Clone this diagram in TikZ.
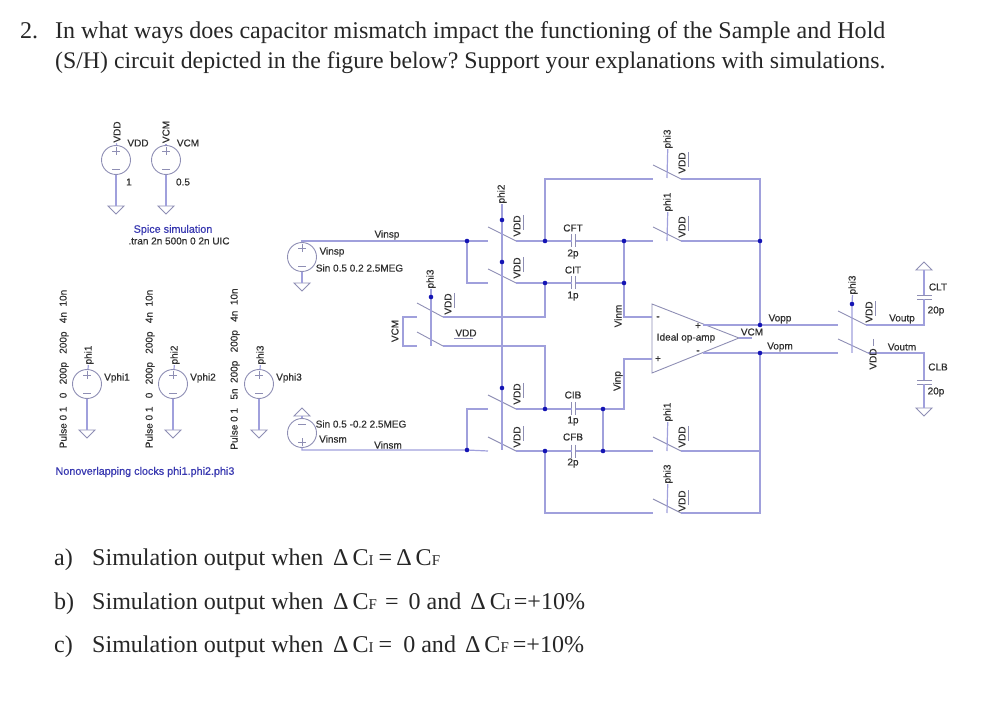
\documentclass[tikz,border=0pt]{standalone}
\usepackage{fontspec}
\setmainfont{Liberation Serif}
\newfontfamily\spicefont[RawFeature={embolden=0.6}]{Liberation Sans}
\definecolor{wirecol}{HTML}{A0A0DC}
\definecolor{symbcol}{HTML}{8E8EB4}
\definecolor{dotcol}{HTML}{1414B4}
\definecolor{notecol}{HTML}{3838B0}
\definecolor{lblcol}{HTML}{303030}
\tikzset{
  wire/.style={draw=wirecol, line width=1.2pt},
  symb/.style={draw=symbcol, line width=0.9pt},
  jdot/.style={circle, fill=dotcol, inner sep=0pt, minimum size=4.6pt},
  vsrc/.style={circle, draw=symbcol, line width=0.9pt, inner sep=0pt, minimum size=29pt},
  lbl/.style={font=\spicefont\fontsize{10}{11}\selectfont, text=lblcol, inner sep=0.5pt},
  rlbl/.style={lbl, rotate=90},
  note/.style={lbl, font=\spicefont\fontsize{10.8}{12}\selectfont, text=notecol},
  prob/.style={anchor=base west, inner sep=0pt, font=\fontsize{24.05}{28}\selectfont\frenchspacing, text=black!85},
}
\newcommand{\Cs}[1]{C{\fontsize{15}{15}\selectfont #1}}
\begin{document}
\begin{tikzpicture}[x=1pt, y=-1pt]
  \useasboundingbox (0,0) rectangle (994,703);

  % Question text
  \node[prob] (q1a) at (20,39) {2.};
  \node[prob] (q1b) at (55,39) {In what ways does capacitor mismatch impact the functioning of the Sample and Hold};
  \node[prob, font=\fontsize{23.8}{28}\selectfont\frenchspacing] (q1c) at (55,69) {(S/H) circuit depicted in the figure below? Support your explanations with simulations.};
  \node[prob] (qa0) at (54,565) {a)};
  \node[prob] (qa1) at (92,565) {Simulation output when};
  \node[prob] (qa2) at (333,565) {Δ\kern4pt\Cs{I}\kern5pt=\kern4ptΔ\kern4pt\Cs{F}};
  \node[prob] (qb0) at (54,609) {b)};
  \node[prob] (qb1) at (92,609) {Simulation output when};
  \node[prob] (qb2) at (333,609) {Δ\kern4pt\Cs{F}\kern8pt=\kern10pt0 and\kern9ptΔ\kern4pt\Cs{I}\kern3pt=+10\%};
  \node[prob] (qc0) at (54,652) {c)};
  \node[prob] (qc1) at (92,652) {Simulation output when};
  \node[prob] (qc2) at (333,652) {Δ\kern4pt\Cs{I}\kern5pt=\kern11pt0 and\kern9ptΔ\kern4pt\Cs{F}\kern4pt=+10\%};

  % Sources
  \foreach \nm/\x/\y in {vdd/116/160, vcm/166/160, vphiA/87/384, vphiB/173/384, vphiC/259/384, vinp/302/257} {
    \node[vsrc] (\nm) at (\x,\y) {};
    \draw[symb] (\x-4,\y-9) -- (\x+4,\y-9) (\x,\y-13) -- (\x,\y-5) (\x-4,\y+9) -- (\x+4,\y+9);
  }
  \node[vsrc] (vinm) at (302,433) {};
  \draw[symb] (298,424) -- (306,424) (298,442) -- (306,442) (302,438) -- (302,446);

  % Grounds
  \foreach \nm/\x/\y/\d in {gvdd/116/206/8, gvcm/166/206/8, gvphiA/87/430/8, gvphiB/173/430/8, gvphiC/259/430/8, gvinp/302/283/8, gvinm/302/416/-8, gclt/924/270/-8, gclb/924/408/8} {
    \coordinate (\nm) at (\x,\y);
    \draw[symb] (\x-8,\y) -- (\x+8,\y) -- (\x,\y+\d) -- cycle;
  }
  \foreach \nm in {vdd, vcm, vphiA, vphiB, vphiC, vinp}
    \draw[wire] (\nm.south) -- (g\nm);
  \draw[wire] (vinm.north) -- (gvinm);

  % Switches: blade and its two contacts
  \foreach \nm/\x/\y/\w in {swA/488/241/28, swB/488/283/28, swC/488/409/28, swD/488/451/28,
      swE/417/317/26, swF/417/346/26,
      swG/653/179/28, swH/653/241/28, swI/653/451/28, swJ/653/513/28,
      swK/838/325/28, swL/838/353/30} {
    \coordinate (\nm L) at (\x,\y);
    \coordinate (\nm R) at (\x+\w,\y);
    \draw[symb] (\x,\y-14) -- (\nm R);
  }

  % Junctions and corners
  \foreach \nm/\x/\y in {jinp/467/241, jinm/467/450, jA/545/241, jB/545/283, jC/545/409, jD/545/451,
      jE/624/241, jF/624/283, jG/603/409, jH/603/451, jP/760/241, jQ/760/325, jR/760/353,
      dA/502/220, dB/502/262, dC/502/388, dD/431/297, dE/852/304,
      cinpT/302/241, cinpB/467/283, cinmB/302/450, cinmT/467/409,
      cA/403/317, cB/403/346, cC/545/317, cD/545/346, cE/545/179, cF/545/513,
      cG/760/179, cH/760/513, cI/624/317, cJ/624/359, cK/624/409, cN/760/451,
      cL/924/325, cM/924/353, cEndB/502/450, cEndD/431/346, cEndE/852/353,
      cEndH/667/241, cEndG/667/178, cEndI/667/451, cEndJ/667/513} {
    \coordinate (\nm) at (\x,\y);
  }

  % Ideal op-amp
  \coordinate (opT) at (652,304);
  \coordinate (opB) at (652,373);
  \coordinate (opO) at (739,338);
  \coordinate (opM) at (652,317);
  \coordinate (opN) at (652,359);
  \coordinate (opP) at (703,325);
  \coordinate (opR) at (703,353);
  \coordinate (opV) at (752,338);
  \draw[symb] (opT) -- (opO) -- (opB) -- cycle;
  \node[lbl] (opname) at (686,338) {Ideal op-amp};
  \node[lbl] (opsA) at (658,318) {-};
  \node[lbl] (opsB) at (658,359) {+};
  \node[lbl] (opsC) at (698,326) {+};
  \node[lbl] (opsD) at (698,352) {-};

  % Input wiring
  \draw[wire] (vinp.north) -- (cinpT) -- (jinp) -- (swAL);
  \draw[wire] (jinp) -- (cinpB) -- (swBL);
  \draw[wire] (vinm.south) -- (cinmB) -- (jinm) -- (swDL);
  \draw[wire] (jinm) -- (cinmT) -- (swCL);
  \draw[wire] (swEL) -- (cA) -- (cB) -- (swFL);
  \draw[wire] (swER) -- (cC) -- (jB);
  \draw[wire] (swFR) -- (cD) -- (jC);

  % Capacitors
  \foreach \nm/\a/\b/\y in {cft/jA/jE/241, cit/jB/jF/283, cib/jC/jG/409, cfb/jD/jH/451} {
    \draw[symb] (571.5,\y-6.5) -- (571.5,\y+6.5) (575.5,\y-6.5) -- (575.5,\y+6.5);
    \coordinate (\nm l) at (571.5,\y);
    \coordinate (\nm r) at (575.5,\y);
    \draw[wire] (\a) -- (\nm l) (\nm r) -- (\b);
  }
  \draw[symb] (917,295) -- (932,295) (917,299) -- (932,299) (917,380) -- (932,380) (917,384) -- (932,384);
  \coordinate (cltT) at (924,295);
  \coordinate (cltB) at (924,299);
  \coordinate (clbT) at (924,380);
  \coordinate (clbB) at (924,384);

  % Capacitor and feedback wiring
  \draw[wire] (swAR) -- (jA);
  \draw[wire] (swBR) -- (jB);
  \draw[wire] (swCR) -- (jC);
  \draw[wire] (swDR) -- (jD);
  \draw[wire] (jE) -- (jF) -- (cI) -- (opM);
  \draw[wire] (jG) -- (cK) -- (cJ) -- (opN);
  \draw[wire] (jG) -- (jH);
  \draw[wire] (jE) -- (swHL);
  \draw[wire] (jH) -- (swIL);
  \draw[wire] (jA) -- (cE) -- (swGL);
  \draw[wire] (jD) -- (cF) -- (swJL);
  \draw[wire] (swGR) -- (cG) -- (jP);
  \draw[wire] (swHR) -- (jP) -- (jQ);
  \draw[wire] (swIR) -- (cN);
  \draw[wire] (swJR) -- (cH) -- (cN) -- (jR);

  % Output wiring
  \draw[wire] (opP) -- (jQ) -- (swKL);
  \draw[wire] (opR) -- (jR) -- (swLL);
  \draw[wire] (swKR) -- (cL) -- (cltB);
  \draw[wire] (cltT) -- (gclt);
  \draw[wire] (swLR) -- (cM) -- (clbT);
  \draw[wire] (clbB) -- (gclb);
  \draw[wire] (opO) -- (opV);

  % Switch control lines
  \node[rlbl] (lphiB) at (502,194) {phi2};
  \node[rlbl] (lphiCa) at (431,279) {phi3};
  \node[rlbl] (lphiCb) at (853,285) {phi3};
  \node[rlbl] (lphiCc) at (668,139) {phi3};
  \node[rlbl] (lphiAa) at (668,202) {phi1};
  \node[rlbl] (lphiAb) at (668,412) {phi1};
  \node[rlbl] (lphiCd) at (668,474) {phi3};
  \draw[wire] (lphiB) -- (dA) -- (cEndB);
  \draw[wire] (lphiCa) -- (dD) -- (cEndD);
  \draw[wire] (lphiCb) -- (dE) -- (cEndE);
  \draw[wire] (lphiCc) -- (cEndG);
  \draw[wire] (lphiAa) -- (cEndH);
  \draw[wire] (lphiAb) -- (cEndI);
  \draw[wire] (lphiCd) -- (cEndJ);

  % Junction dots go over the wires
  \foreach \nm in {jinp, jinm, jA, jB, jC, jD, jE, jF, jG, jH, jP, jQ, jR, dA, dB, dC, dD, dE}
    \node[jdot] (n\nm) at (\nm) {};

  % VDD flags on the switches
  \foreach \nm/\x/\y in {fA/517/226, fB/517/268, fC/517/394, fD/517/437,
      fE/682/163, fF/682/227, fG/682/437, fH/682/501, fI/448/304, fJ/869/312} {
    \node[rlbl] (\nm) at (\x,\y) {VDD};
    \draw[symb] (\x+6,\y-11) -- (\x+6,\y+4);
  }
  \node[lbl] (fK) at (466,333) {VDD};
  \draw[symb] (454,338.5) -- (473,338.5);
  \node[rlbl] (fL) at (873,359) {VDD};
  \draw[symb] (873,339) -- (873,346);

  % Source labels
  \node[rlbl] (lvdd) at (117,132) {VDD};
  \node[rlbl] (lvcm) at (166,132) {VCM};
  \draw[wire] (lvdd) -- (vdd);
  \draw[wire] (lvcm) -- (vcm);
  \node[lbl] (nvdd) at (138,143) {VDD};
  \node[lbl] (nvcm) at (188,143) {VCM};
  \node[lbl] (vala) at (129,182) {1};
  \node[lbl] (valb) at (183,182) {0.5};
  \node[note] (spice) at (173,230) {Spice simulation};
  \node[lbl] (tran) at (179,241) {.tran 2n 500n 0 2n UIC};

  % Clock sources
  \node[rlbl] (tphiA) at (89,355) {phi1};
  \node[rlbl] (tphiB) at (175,355) {phi2};
  \node[rlbl] (tphiC) at (261,355) {phi3};
  \draw[wire] (tphiA) -- (vphiA);
  \draw[wire] (tphiB) -- (vphiB);
  \draw[wire] (tphiC) -- (vphiC);
  \node[lbl] (nphiA) at (117,378) {Vphi1};
  \node[lbl] (nphiB) at (203,378) {Vphi2};
  \node[lbl] (nphiC) at (289,378) {Vphi3};
  \node[rlbl] (pulA) at (64,369) {Pulse 0 1\ \ \ 0\ \ \ 200p\ \ \ 200p\ \ \ 4n\ \ 10n};
  \node[rlbl] (pulB) at (150,369) {Pulse 0 1\ \ \ 0\ \ \ 200p\ \ \ 200p\ \ \ 4n\ \ 10n};
  \node[rlbl] (pulC) at (235,369) {Pulse 0 1\ \ \ 5n\ \ 200p\ \ \ 200p\ \ \ 4n\ \ 10n};
  \node[note] (clocks) at (145,472) {Nonoverlapping clocks phi1.phi2.phi3};

  % Input labels
  \node[lbl] (tinpw) at (387,235) {Vinsp};
  \node[lbl] (tinp) at (332,252) {Vinsp};
  \node[lbl] (sinp) at (359.5,268) {Sin 0.5 0.2 2.5MEG};
  \node[lbl] (sinm) at (361,424) {Sin 0.5 -0.2 2.5MEG};
  \node[lbl] (tinm) at (333,439) {Vinsm};
  \node[lbl] (tinmw) at (388,445) {Vinsm};
  \node[rlbl] (tvcm) at (395,331) {VCM};

  % Net and capacitor labels
  \node[rlbl] (tvinm) at (618,316) {Vinm};
  \node[rlbl] (tvinp) at (618,381) {Vinp};
  \node[lbl] (lcft) at (573,228) {CFT};
  \node[lbl] (vcft) at (573,254) {2p};
  \node[lbl] (lcit) at (573,270) {CIT};
  \node[lbl] (vcit) at (573,296) {1p};
  \node[lbl] (lcib) at (573,395) {CIB};
  \node[lbl] (vcib) at (573,421) {1p};
  \node[lbl] (lcfb) at (573,437) {CFB};
  \node[lbl] (vcfb) at (573,463) {2p};
  \node[lbl] (lvcmo) at (752,332) {VCM};
  \node[lbl] (tvopp) at (780,319) {Vopp};
  \node[lbl] (tvopm) at (780,347) {Vopm};
  \node[lbl] (tvoutp) at (902,319) {Voutp};
  \node[lbl] (tvoutm) at (902,347) {Voutm};
  \node[lbl] (lclt) at (938,287) {CLT};
  \node[lbl] (vclt) at (936,311) {20p};
  \node[lbl] (lclb) at (938,367) {CLB};
  \node[lbl] (vclb) at (936,392) {20p};
\end{tikzpicture}
\end{document}
